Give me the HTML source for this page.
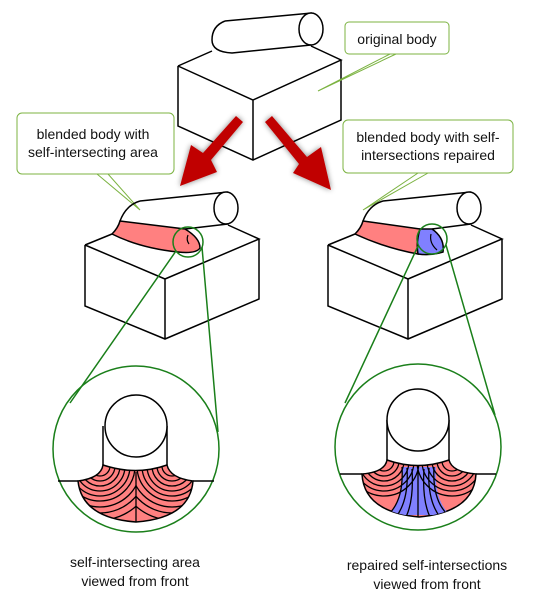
<!DOCTYPE html>
<html><head><meta charset="utf-8"><style>
html,body{margin:0;padding:0;background:#fff}
svg{display:block}
text{font-family:"Liberation Sans",Arial,sans-serif;font-size:14px;fill:#111}
</style></head><body>
<svg width="558" height="606" viewBox="0 0 558 606">
<defs>
<filter id="sh" x="-30%" y="-30%" width="160%" height="160%"><feGaussianBlur in="SourceAlpha" stdDeviation="3"/><feOffset dx="0" dy="0"/><feComponentTransfer><feFuncA type="linear" slope="0.5"/></feComponentTransfer><feMerge><feMergeNode/><feMergeNode in="SourceGraphic"/></feMerge></filter>
<clipPath id="lfan"><path d="M103,465 Q101,478 78,481 Q82,518 136,522 Q190,518 193,481 Q170,478 167,465 Q136,476 103,465Z"/></clipPath>
<clipPath id="lfanL"><rect x="70" y="440" width="66" height="90"/></clipPath>
<clipPath id="lfanR"><rect x="136" y="440" width="70" height="90"/></clipPath>
<clipPath id="rfan"><path d="M387,460 Q385,472 362,474 Q364,512 419,517 Q474,512 476,474 Q452,472 449,460 Q418,471 387,460Z"/></clipPath>
</defs>

<g fill="none" stroke="#000" stroke-width="1.5">
<path d="M225,21 L312,13" />
<ellipse cx="311" cy="29" rx="12" ry="16" fill="#fff"/>
<path d="M225,21 Q212,26 212,40 Q212,52 232,53 L311,45"/>
<path d="M178,66 L253,100 L341,60 L311,46 M212,51 L178,66 M178,66 L178,126 L253,160 L341,120 L341,60 M253,100 L253,160"/>
</g>

<g>
<path d="M390,54 L318,91 L396,54" fill="none" stroke="#7cb342" stroke-width="1"/>
<rect x="345" y="22" width="104" height="32" rx="4" fill="#fff" stroke="#7cb342" stroke-width="1"/>
<text x="397" y="44" text-anchor="middle">original body</text>
</g>

<g fill="#c00000" filter="url(#sh)">
<path d="M236,116 L243,122 L211,160 L217,172 L180,186 L191,145 L203,153Z"/>
<path d="M272,116 L265,122 L299,164 L293,173 L331,190 L321,147 L307,157Z"/>
</g>

<g>
<path d="M97,174 L140,210 L108,174" fill="none" stroke="#7cb342" stroke-width="1"/>
<rect x="17" y="113" width="157" height="61" rx="5" fill="#fff" stroke="#7cb342" stroke-width="1"/>
<text x="93" y="139" text-anchor="middle">blended body with</text>
<text x="93" y="157" text-anchor="middle">self-intersecting area</text>
</g>
<g>
<path d="M418,173 L363,210 L428,173" fill="none" stroke="#7cb342" stroke-width="1"/>
<rect x="343" y="120" width="170" height="53" rx="5" fill="#fff" stroke="#7cb342" stroke-width="1"/>
<text x="428" y="142" text-anchor="middle">blended body with self-</text>
<text x="428" y="160" text-anchor="middle">intersections repaired</text>
</g>

<g stroke="#000" stroke-width="1.5" fill="none">
<path d="M140,201 L228,192"/>
<ellipse cx="226" cy="208" rx="12" ry="16" fill="#fff"/>
<path d="M140,201 Q126,205 120,221" />
<path d="M120,221 L185,229 Q200,238 200,248 Q196,254 178,252 Q140,248 112,234 Q118,228 120,221Z" fill="#ff8080"/>
<path d="M188,235 Q186,240 189,244" stroke-width="1.2"/>
<path d="M185,229 L228,224"/>
<path d="M85,245 L112,234 M85,245 L165,279 L259,239 L228,225 M85,245 L85,306 L165,339 L259,299 L259,239 M165,279 L165,339"/>
</g>
<g stroke="#000" stroke-width="1.5" fill="none">
<path d="M383,201 L471,192"/>
<ellipse cx="469" cy="208" rx="12" ry="16" fill="#fff"/>
<path d="M383,201 Q369,205 363,221"/>
<path d="M363,221 L420,229 Q416,242 418,254 Q385,248 355,234 Q361,228 363,221Z" fill="#ff8080"/>
<path d="M420,229 L432,229 Q445,238 443,252 Q430,256 418,254 Q416,242 420,229Z" fill="#8080ff"/>
<path d="M431,234 Q429,243 437,250" stroke-width="1.2"/>
<path d="M432,229 L471,224"/>
<path d="M328,245 L355,234 M328,245 L408,279 L502,239 L471,225 M328,245 L328,306 L408,339 L502,299 L502,239 M408,279 L408,339"/>
</g>

<g fill="none" stroke="#1a7f1a" stroke-width="1.5">
<circle cx="188" cy="242" r="15"/>
<path d="M176,251 L70,403 M202,247 L218,432"/>
<circle cx="136" cy="449" r="83"/>
<circle cx="432" cy="239" r="15"/>
<path d="M418,246 L345,403 M446,245 L495,415"/>
<circle cx="418" cy="447" r="83"/>
</g>

<g stroke="#000" stroke-width="1.5">
<path d="M58,481 L78,481 M193,481 L214,481" fill="none"/>
<path d="M103,426 L103,465 M167,426 L167,465" fill="none"/>
<circle cx="136" cy="426" r="31" fill="#fff"/>
<path d="M103,465 Q101,478 78,481 Q82,518 136,522 Q190,518 193,481 Q170,478 167,465 Q136,476 103,465Z" fill="#ff8080"/>
<g clip-path="url(#lfan)" fill="none" stroke-width="1.3">
<g clip-path="url(#lfanL)">
<circle cx="100" cy="466" r="10"/><circle cx="100" cy="466" r="15"/><circle cx="100" cy="466" r="20"/><circle cx="100" cy="466" r="25"/><circle cx="100" cy="466" r="30"/><circle cx="100" cy="466" r="35"/><circle cx="100" cy="466" r="41"/><circle cx="100" cy="466" r="47"/><circle cx="100" cy="466" r="54"/>
</g>
<g clip-path="url(#lfanR)">
<circle cx="172" cy="466" r="10"/><circle cx="172" cy="466" r="15"/><circle cx="172" cy="466" r="20"/><circle cx="172" cy="466" r="25"/><circle cx="172" cy="466" r="30"/><circle cx="172" cy="466" r="35"/><circle cx="172" cy="466" r="41"/><circle cx="172" cy="466" r="47"/><circle cx="172" cy="466" r="54"/>
</g>
<path d="M136,472 L136,523"/>
</g>
</g>

<g stroke="#000" stroke-width="1.5">
<path d="M340,474 L362,474 M476,474 L496,474" fill="none"/>
<path d="M387,420 L387,460 M449,420 L449,460" fill="none"/>
<circle cx="418" cy="420" r="31" fill="#fff"/>
<path d="M387,460 Q385,472 362,474 Q364,512 419,517 Q474,512 476,474 Q452,472 449,460 Q418,471 387,460Z" fill="#ff8080"/>
<g clip-path="url(#rfan)" fill="none" stroke-width="1.3">
<path d="M402,467 Q404,500 388,515 L450,515 Q434,500 436,467Z" fill="#8080ff" stroke="none"/>
<circle cx="384" cy="461" r="10"/><circle cx="384" cy="461" r="15"/><circle cx="384" cy="461" r="20"/><circle cx="384" cy="461" r="25"/><circle cx="384" cy="461" r="30"/><circle cx="384" cy="461" r="35"/>
<circle cx="452" cy="461" r="10"/><circle cx="452" cy="461" r="15"/><circle cx="452" cy="461" r="20"/><circle cx="452" cy="461" r="25"/><circle cx="452" cy="461" r="30"/><circle cx="452" cy="461" r="35"/>
<path d="M402,467 Q404,500 388,515 M407,468 Q409,500 396,517 M412,469 Q414,500 406,517 M424,469 Q422,500 430,517 M429,468 Q427,500 440,517 M434,467 Q432,500 448,515"/>
<path d="M418,470 L418,518"/>
</g>
</g>

<g>
<text x="135" y="567" text-anchor="middle">self-intersecting area</text>
<text x="135" y="586" text-anchor="middle">viewed from front</text>
<text x="427" y="570" text-anchor="middle">repaired self-intersections</text>
<text x="427" y="589" text-anchor="middle">viewed from front</text>
</g>
</svg>
</body></html>
